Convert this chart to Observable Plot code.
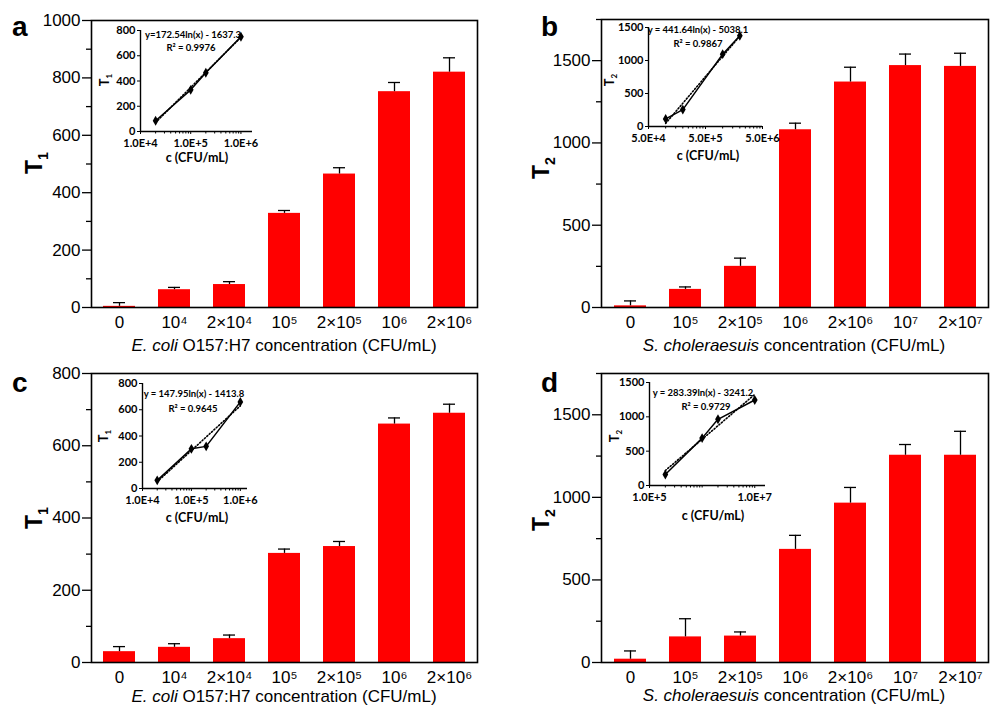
<!DOCTYPE html>
<html><head><meta charset="utf-8">
<script src="https://cdn.jsdelivr.net/npm/d3@7"></script>
<script src="https://cdn.jsdelivr.net/npm/@observablehq/plot@0.6"></script>
<style>
body{margin:0;background:#fff;width:993px;height:705px;position:relative;overflow:hidden;font-family:"Liberation Sans",Arial,sans-serif}
.abs{position:absolute}
</style></head><body>
<script>
// ---------- main bar data ----------
const catsAC = ["0","10⁴","2×10⁴","10⁵","2×10⁵","10⁶","2×10⁶"];
const catsBD = ["0","10⁵","2×10⁵","10⁶","2×10⁶","10⁷","2×10⁷"];
const valsA = [4, 62, 80, 328, 465, 752, 820];
const errsA = [13, 8, 10, 10, 22, 32, 50];
const valsB = [10, 110, 250, 1080, 1370, 1470, 1465];
const errsB = [30, 15, 50, 40, 90, 70, 80];
const valsC = [30, 42, 66, 302, 321, 660, 690];
const errsC = [14, 10, 10, 12, 14, 17, 25];
const valsD = [20, 155, 160, 685, 965, 1255, 1255];
const errsD = [50, 110, 25, 85, 95, 65, 145];
// y ticks
const yMajorA = [0,200,400,600,800,1000], yMinorA = [100,300,500,700,900];
const yMajorC = [0,200,400,600,800], yMinorC = [100,300,500,700];
const yMajorBD = [0,500,1000,1500], yMinorBD = [250,750,1250,1750];

// ---------- inset data ----------
const insAx = [2e4, 1e5, 2e5, 1e6], insAy = [85, 330, 465, 750];
const insBx = [1e5, 2e5, 1e6, 2e6], insBy = [115, 256, 1096, 1374];
const insCx = [2e4, 1e5, 2e5, 1e6], insCy = [62, 302, 321, 660];
const insDx = [2e5, 1e6, 2e6, 1e7], insDy = [160, 690, 964, 1245];
const fitA = [172.54, -1637.3], fitB = [441.64, -5038.1], fitC = [147.95, -1413.8], fitD = [283.39, -3241.2];
const eqA = ["y=172.54ln(x) - 1637.3", "R² = 0.9976"];
const eqB = ["y = 441.64ln(x) - 5038.1", "R² = 0.9867"];
const eqC = ["y = 147.95ln(x) - 1413.8", "R² = 0.9645"];
const eqD = ["y = 283.39ln(x) - 3241.2", "R² = 0.9729"];
const insTicksA = [1e4,1e5,1e6], insTicksB = [5e4,5e5,5e6], insTicksD = [1e5,1e7];

const MAINFONT = "Liberation Sans, Arial, sans-serif";
const INFONT = "Lato, 'Open Sans', sans-serif";

function place(el, left, top) {
  el.classList.add("abs"); el.style.left = left + "px"; el.style.top = top + "px";
  document.body.appendChild(el);
}

function mainPanel(o) {
  const data = o.cats.map((c, i) => ({c, v: o.vals[i], e: o.errs[i]}));
  const p = Plot.plot({
    width: o.width, height: o.height,
    marginLeft: o.mL, marginRight: o.mR, marginTop: o.mT, marginBottom: o.mB,
    style: {fontFamily: MAINFONT, fontSize: "17px", background: "transparent", color: "#000", overflow: "visible"},
    x: {domain: o.cats, paddingInner: 0.42, paddingOuter: 0.21},
    y: {domain: [0, o.ymax]},
    marks: [
      Plot.barY(data, {x: "c", y: "v", fill: "#ff0000"}),
      Plot.ruleX(data, {x: "c", y1: "v", y2: d => d.v + d.e, stroke: "#000", strokeWidth: 1.3}),
      Plot.tickY(data, {x: "c", y: d => d.v + d.e, insetLeft: 10, insetRight: 10, stroke: "#000", strokeWidth: 1.3}),
      Plot.axisY({ticks: o.yMajor, tickSize: 9, tickPadding: 2, label: null, fontSize: 17, strokeWidth: 1.3, tickFormat: d => String(d)}),
      Plot.axisY({ticks: o.yMinor, tickSize: 5, label: null, tickFormat: () => "", strokeWidth: 1.3}),
      Plot.axisX({tickSize: 0, tickPadding: 8, label: null, fontSize: 17}),
      Plot.frame({stroke: "#000", strokeWidth: 1.6})
    ]
  });
  place(p, o.left, o.top);
}

function inset(o) {
  const pts = o.xs.map((x, i) => ({x, y: o.ys[i]}));
  const fit = [o.xs[0], o.xs[o.xs.length - 1]].map(x => ({x, y: o.fit[0] * Math.log(x) + o.fit[1]}));
  const p = Plot.plot({
    width: o.width, height: o.height,
    marginLeft: o.mL, marginRight: o.mR, marginTop: o.mT, marginBottom: o.mB,
    style: {fontFamily: INFONT, fontSize: "11px", fontWeight: "bold", background: "transparent", color: "#000", overflow: "visible"},
    x: {type: "log", domain: o.xDomain},
    y: {domain: o.yDomain},
    marks: [
      Plot.ruleY([o.yDomain[0]], {stroke: "#000", strokeWidth: 1.4}),
      Plot.ruleX([o.xDomain[0]], {stroke: "#000", strokeWidth: 1.4}),
      Plot.axisY({ticks: o.yTicks, tickSize: 3, tickPadding: 2, label: null, tickFormat: d => String(d), fontWeight: "bold"}),
      Plot.axisX({ticks: o.xMinor, tickSize: 2.5, tickFormat: () => "", label: null}),
      Plot.axisX({ticks: o.xTicks, tickSize: 3, tickPadding: 5, label: null, tickFormat: d => d.toExponential(1).toUpperCase(), fontWeight: "bold"}),
      Plot.line(fit, {x: "x", y: "y", stroke: "#000", strokeWidth: 1.6, strokeDasharray: "1.2,2"}),
      Plot.line(pts, {x: "x", y: "y", stroke: "#000", strokeWidth: 1.5}),
      Plot.dot(pts, {x: "x", y: "y", symbol: "diamond", r: 3, fill: "#000"})
    ]
  });
  place(p, o.left, o.top);
}

function minorDecades(lo, hi, mults) {
  const out = [];
  for (let e = lo; e <= hi; e++) for (const m of mults) out.push(m * Math.pow(10, e));
  return out;
}

// ---------- main panels ----------
mainPanel({cats: catsAC, vals: valsA, errs: errsA, ymax: 1000, yMajor: yMajorA, yMinor: yMinorA,
  left: 0, top: 0, width: 496, height: 360, mL: 91, mR: 19, mT: 20, mB: 53});
mainPanel({cats: catsBD, vals: valsB, errs: errsB, ymax: 1750, yMajor: yMajorBD, yMinor: yMinorBD,
  left: 496, top: 0, width: 497, height: 360, mL: 105, mR: 5, mT: 19, mB: 53});
mainPanel({cats: catsAC, vals: valsC, errs: errsC, ymax: 800, yMajor: yMajorC, yMinor: yMinorC,
  left: 0, top: 352, width: 496, height: 353, mL: 91, mR: 19, mT: 21, mB: 43});
mainPanel({cats: catsBD, vals: valsD, errs: errsD, ymax: 1750, yMajor: yMajorBD, yMinor: yMinorBD,
  left: 496, top: 352, width: 497, height: 353, mL: 105, mR: 5, mT: 21, mB: 43});

// ---------- insets ----------
inset({xs: insAx, ys: insAy, fit: fitA, xDomain: [1e4, 1.7e6], yDomain: [0, 800], yTicks: [0,200,400,600,800],
  xTicks: insTicksA, xMinor: minorDecades(4, 5, [2,3,4,5,6,7,8,9]),
  left: 92, top: 10, width: 170, height: 160, mL: 48, mR: 10, mT: 20, mB: 39});
inset({xs: insBx, ys: insBy, fit: fitB, xDomain: [5e4, 5e6], yDomain: [0, 1500], yTicks: [0,500,1000,1500],
  xTicks: insTicksB, xMinor: minorDecades(5, 6, [1,1.5,2,2.5,3,3.5,4,4.5]),
  left: 600, top: 8, width: 180, height: 160, mL: 48, mR: 18, mT: 19, mB: 42});
inset({xs: insCx, ys: insCy, fit: fitC, xDomain: [1e4, 1.4e6], yDomain: [0, 800], yTicks: [0,200,400,600,800],
  xTicks: insTicksA, xMinor: minorDecades(4, 5, [2,3,4,5,6,7,8,9]),
  left: 92, top: 362, width: 170, height: 165, mL: 50, mR: 15, mT: 21, mB: 39});
inset({xs: insDx, ys: insDy, fit: fitD, xDomain: [1e5, 1.6e7], yDomain: [0, 1500], yTicks: [0,500,1000,1500],
  xTicks: insTicksD, xMinor: minorDecades(5, 6, [2,3,4,5,6,7,8,9]).concat([1e6]),
  left: 600, top: 362, width: 180, height: 165, mL: 49, mR: 15, mT: 20, mB: 42});

// ---------- text overlay ----------
const ov = d3.select("body").append("svg").attr("width", 993).attr("height", 705)
  .style("position", "absolute").style("left", "0px").style("top", "0px").style("pointer-events", "none");

function letter(t, x, y) {
  ov.append("text").attr("x", x).attr("y", y).attr("font-family", MAINFONT).attr("font-weight", "bold")
    .attr("font-size", 28).text(t);
}
function yTitle(x, y, sub, size, font) {
  const t = ov.append("text").attr("transform", `translate(${x},${y}) rotate(-90)`).attr("text-anchor", "middle")
    .attr("font-family", font).attr("font-weight", "bold").attr("font-size", size);
  t.append("tspan").text("T");
  t.append("tspan").attr("font-size", size * 0.62).attr("dy", size * 0.25).text(sub);
}
function xTitle(x, y, ital, rest) {
  const t = ov.append("text").attr("x", x).attr("y", y).attr("text-anchor", "middle")
    .attr("font-family", MAINFONT).attr("font-size", 17);
  t.append("tspan").attr("font-style", "italic").text(ital);
  t.append("tspan").text(rest);
}
function insText(x, y, txt, size) {
  ov.append("text").attr("x", x).attr("y", y).attr("text-anchor", "middle").attr("font-family", INFONT)
    .attr("font-weight", "bold").attr("font-size", size).text(txt);
}

letter("a", 12, 36); letter("b", 541, 36); letter("c", 12, 392); letter("d", 541, 392);
yTitle(42, 163, "1", 23, MAINFONT); yTitle(549, 168, "2", 23, MAINFONT);
yTitle(42, 518, "1", 23, MAINFONT); yTitle(549, 520, "2", 23, MAINFONT);
xTitle(284, 351, "E. coli", " O157:H7 concentration (CFU/mL)");
xTitle(794, 351, "S. choleraesuis", " concentration (CFU/mL)");
xTitle(284, 702, "E. coli", " O157:H7 concentration (CFU/mL)");
xTitle(794, 701, "S. choleraesuis", " concentration (CFU/mL)");

// inset equations and titles
insText(193, 38, eqA[0], 9.5); insText(191, 51, eqA[1], 9.5);
insText(698, 33, eqB[0], 9.5); insText(698, 47, eqB[1], 9.5);
insText(194, 397, eqC[0], 9.5); insText(193, 412, eqC[1], 9.5);
insText(703, 396, eqD[0], 9.5); insText(706, 410, eqD[1], 9.5);
insText(197, 162, "c (CFU/mL)", 12.5); insText(708, 160, "c (CFU/mL)", 12.5);
insText(197, 522, "c (CFU/mL)", 12.5); insText(713, 520, "c (CFU/mL)", 12.5);
yTitle(109, 80, "1", 13, INFONT); yTitle(614, 80, "2", 13, INFONT);
yTitle(108, 436, "1", 13, INFONT); yTitle(619, 436, "2", 13, INFONT);
</script>
</body></html>
